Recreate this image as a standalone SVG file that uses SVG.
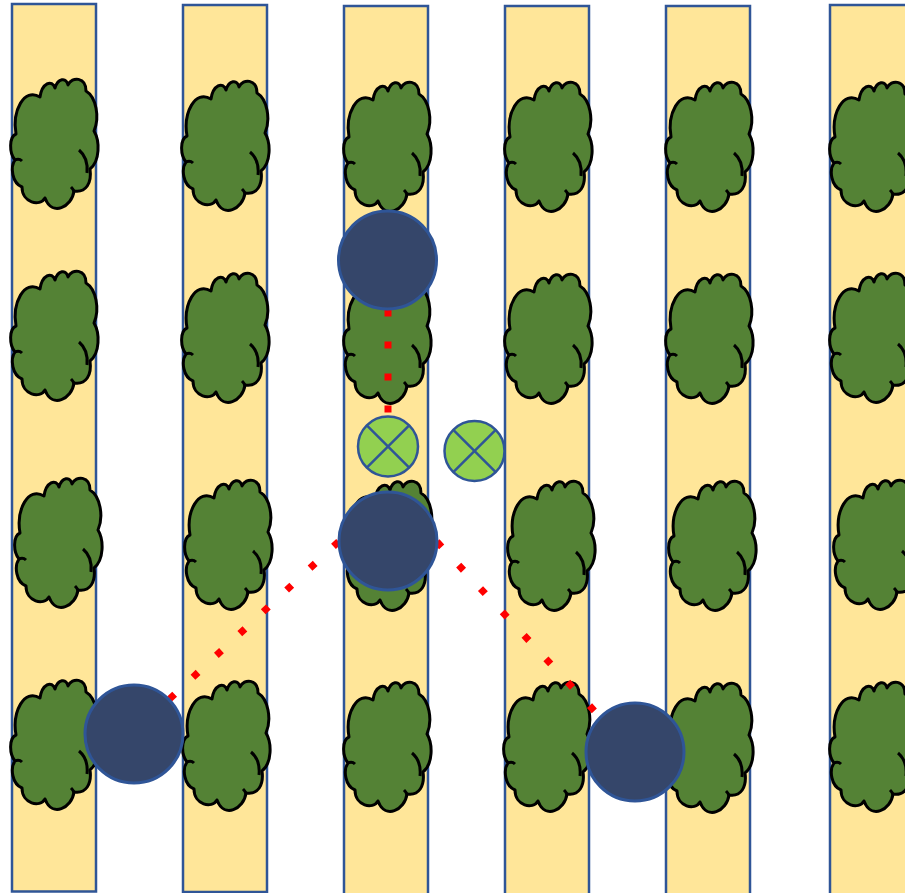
<svg xmlns="http://www.w3.org/2000/svg" xmlns:xlink="http://www.w3.org/1999/xlink" width="905" height="893" viewBox="0 0 905 893">
  <style>
    .strip { fill: #FFE699; stroke: #2F5597; stroke-width: 2.5; }
    .tree path { fill: #548235; stroke: #000; stroke-width: 3; stroke-linejoin: round; }
    .tree .fold { fill: none; }
    .station { fill: #35466A; stroke: #2F5597; stroke-width: 3; }
    .sensor circle { fill: #92D050; stroke: #2F5597; stroke-width: 2.5; }
    .sensor line { stroke: #2F5597; stroke-width: 2.5; }
    .link { stroke: #FF0000; stroke-width: 7; stroke-dasharray: 7 25; fill: none; stroke-linecap: butt; }
  </style>
  <defs>
    <!-- canopy outline, 85 x 133 box -->
    <g id="canopy" class="tree">
      <path d="M4,55 C0,32 12,8 28,18 C30,4 40,0 43,9 C46,-1 54,-2 56,6 C60,-3 74,-2 74,12 C84,18 88,38 82,52 C88,62 88,82 78,90 C80,104 74,114 62,112 C60,128 40,138 33,119 C28,128 10,124 10,108 C0,104 -2,88 3,81 C-3,74 -3,58 4,55 Z"/>
      <path class="fold" d="M67,71 C73,76 76,84 75,94"/>
      <path class="fold" d="M3,81 C5,80 8,80 10,82"/>
      <path class="fold" d="M59,108 C61,110 62,111 62,113"/>
    </g>
  </defs>

  <!-- planting rows -->
  <g id="rows">
    <rect id="row1" class="strip" x="12" y="4" width="84" height="887.5"/>
    <rect id="row2" class="strip" x="183" y="5" width="84" height="887"/>
    <rect id="row3" class="strip" x="344" y="6" width="84" height="900"/>
    <rect id="row4" class="strip" x="505" y="6" width="84" height="900"/>
    <rect id="row5" class="strip" x="666" y="6" width="84" height="900"/>
    <rect id="row6" class="strip" x="830" y="5" width="120" height="900"/>
  </g>

  <!-- trees -->
  <g id="trees">
    <g id="tree-1-1"><use xlink:href="#canopy" x="12" y="79"/></g>
    <g id="tree-1-2"><use xlink:href="#canopy" x="12" y="271"/></g>
    <g id="tree-1-3"><use xlink:href="#canopy" x="16" y="478"/></g>
    <g id="tree-1-4"><use xlink:href="#canopy" x="12" y="680"/></g>

    <g id="tree-2-1"><use xlink:href="#canopy" x="183" y="81"/></g>
    <g id="tree-2-2"><use xlink:href="#canopy" x="183" y="273"/></g>
    <g id="tree-2-3"><use xlink:href="#canopy" x="186" y="480"/></g>
    <g id="tree-2-4"><use xlink:href="#canopy" x="184" y="681"/></g>

    <g id="tree-3-1"><use xlink:href="#canopy" x="345" y="82"/></g>
    <g id="tree-3-2"><use xlink:href="#canopy" x="345" y="274"/></g>
    <g id="tree-3-3"><use xlink:href="#canopy" x="347" y="481"/></g>
    <g id="tree-3-4"><use xlink:href="#canopy" x="345" y="682"/></g>

    <g id="tree-4-1"><use xlink:href="#canopy" x="506" y="82"/></g>
    <g id="tree-4-2"><use xlink:href="#canopy" x="506" y="274"/></g>
    <g id="tree-4-3"><use xlink:href="#canopy" x="509" y="481"/></g>
    <g id="tree-4-4"><use xlink:href="#canopy" x="505" y="682"/></g>

    <g id="tree-5-1"><use xlink:href="#canopy" x="667" y="82"/></g>
    <g id="tree-5-2"><use xlink:href="#canopy" x="667" y="274"/></g>
    <g id="tree-5-3"><use xlink:href="#canopy" x="670" y="481"/></g>
    <g id="tree-5-4"><use xlink:href="#canopy" x="667" y="683"/></g>

    <g id="tree-6-1"><use xlink:href="#canopy" x="831" y="82"/></g>
    <g id="tree-6-2"><use xlink:href="#canopy" x="831" y="273"/></g>
    <g id="tree-6-3"><use xlink:href="#canopy" x="835" y="480"/></g>
    <g id="tree-6-4"><use xlink:href="#canopy" x="831" y="682"/></g>
  </g>

  <!-- links between stations -->
  <g id="connectors">
    <line class="link" x1="388" y1="309.5" x2="388" y2="416"/>
    <line class="link" x1="338.6" y1="541.6" x2="169" y2="699.5"/>
    <line class="link" x1="436.9" y1="541.7" x2="595" y2="711.5"/>
  </g>

  <!-- sensors -->
  <g id="sensor-1" class="sensor">
    <circle cx="388" cy="446.5" r="30"/>
    <line x1="366.8" y1="425.3" x2="409.2" y2="467.7"/>
    <line x1="409.2" y1="425.3" x2="366.8" y2="467.7"/>
  </g>
  <g id="sensor-2" class="sensor">
    <circle cx="474.5" cy="451" r="30"/>
    <line x1="453.3" y1="429.8" x2="495.7" y2="472.2"/>
    <line x1="495.7" y1="429.8" x2="453.3" y2="472.2"/>
  </g>

  <!-- stations -->
  <g id="station-a"><circle class="station" cx="387.5" cy="260" r="49"/></g>
  <g id="station-b"><circle class="station" cx="388" cy="541" r="49"/></g>
  <g id="station-c"><circle class="station" cx="134" cy="734" r="49"/></g>
  <g id="station-d"><circle class="station" cx="635" cy="752" r="49"/></g>
</svg>
